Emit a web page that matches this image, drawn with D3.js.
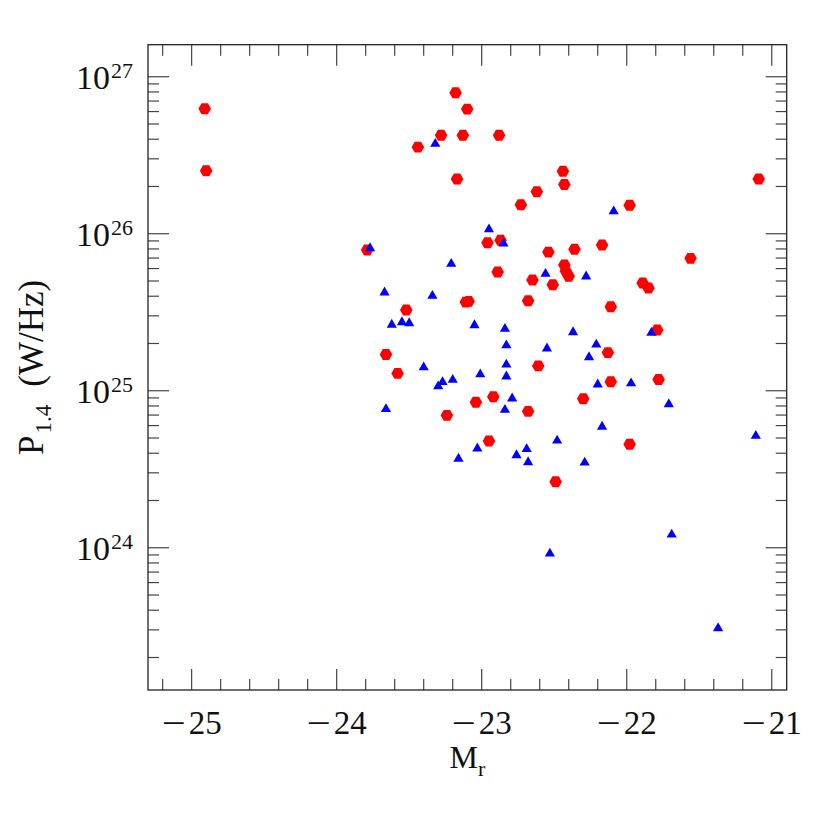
<!DOCTYPE html>
<html>
<head>
<meta charset="utf-8">
<script src="https://cdn.jsdelivr.net/npm/d3@7"></script>
<style>
  body { margin: 0; background: #fff; }
  svg text { font-family: 'Liberation Serif', 'DejaVu Serif', serif; fill: #111; }
</style>
</head>
<body>
<div id="chart"></div>
<script>
// red hexagons: absolute magnitude M_r and 1.4 GHz power (W/Hz)
var redMag = [
  -24.91, -24.90, -23.18, -23.10, -23.28, -23.13, -23.44, -22.88, -23.17, -21.09,
  -22.44, -22.43, -22.62, -22.73, -21.98, -23.79, -22.96, -22.87, -22.54, -22.36,
  -22.17, -21.56, -22.43, -22.42, -22.40, -22.89, -22.65, -22.51, -21.89, -21.85,
  -23.11, -23.09, -23.52, -22.68, -22.11, -21.79, -23.66, -23.58, -23.24, -22.13,
  -22.61, -22.11, -21.78, -22.92, -23.04, -22.30, -22.68, -22.95, -21.98, -22.49
]
var redPow = [
  6.25e26, 2.52e26, 7.91e26, 6.22e26, 4.24e26, 4.24e26, 3.56e26, 4.24e26, 2.23e26, 2.23e26,
  2.50e26, 2.06e26, 1.85e26, 1.53e26, 1.52e26, 7.88e25, 8.77e25, 9.08e25, 7.64e25, 7.96e25,
  8.47e25, 6.97e25, 6.32e25, 5.78e25, 5.36e25, 5.70e25, 5.07e25, 4.73e25, 4.85e25, 4.51e25,
  3.67e25, 3.71e25, 3.27e25, 3.74e25, 3.43e25, 2.44e25, 1.70e25, 1.29e25, 6.97e24, 1.75e25,
  1.44e25, 1.14e25, 1.18e25, 9.16e24, 8.44e24, 8.89e24, 7.39e24, 4.78e24, 4.56e24, 2.63e24
]

// blue triangles
var blueMag = [
  -23.32, -23.77, -22.09, -22.95, -22.85, -23.21, -23.67, -23.34, -23.62, -23.55,
  -23.50, -22.56, -22.28, -23.05, -22.84, -22.37, -21.83, -22.83, -22.55, -22.21,
  -22.26, -23.40, -22.83, -23.01, -22.83, -23.30, -23.27, -23.20, -22.20, -21.97,
  -23.66, -22.79, -21.71, -22.84, -22.17, -21.11, -22.48, -23.03, -22.69, -22.76,
  -23.16, -22.68, -22.29, -21.69, -22.53, -21.37
]
var bluePow = [
  3.82e26, 8.26e25, 1.42e26, 1.09e26, 8.86e25, 6.57e25, 4.32e25, 4.11e25, 2.69e25, 2.79e25,
  2.75e25, 5.68e25, 5.46e25, 2.67e25, 2.53e25, 2.41e25, 2.39e25, 1.99e25, 1.90e25, 2.01e25,
  1.67e25, 1.44e25, 1.50e25, 1.30e25, 1.26e25, 1.09e25, 1.16e25, 1.20e25, 1.12e25, 1.14e25,
  7.80e24, 9.12e24, 8.39e24, 7.72e24, 6.03e24, 5.27e24, 4.92e24, 4.38e24, 4.34e24, 3.97e24,
  3.77e24, 3.58e24, 3.56e24, 1.24e24, 9.39e23, 3.14e23
]

var xTickValues = [-25, -24, -23, -22, -21]
var yTickExps = [24, 25, 26, 27]

var W = 830, H = 830
var margin = { top: 44.7, right: 43.3, bottom: 140, left: 148 }

var svg = d3.select('#chart').append('svg')
  .attr('width', W)
  .attr('height', H)

var x = d3.scaleLinear()
  .domain([-25.301, -20.897])
  .range([margin.left, W - margin.right])

var y = d3.scaleLog()
  .domain([Math.pow(10, 23.094), Math.pow(10, 27.204)])
  .range([H - margin.bottom, margin.top])

var x0 = x.range()[0], x1 = x.range()[1]
var y0 = y.range()[0], y1 = y.range()[1]

// minor/major tick positions
var xMinor = d3.range(-25.2, -20.9, 0.2).filter(function(v) {
  return Math.abs(v - Math.round(v)) > 0.01
})
var yMinor = []
d3.range(23, 28).forEach(function(e) {
  d3.range(2, 10).forEach(function(m) {
    var v = m * Math.pow(10, e)
    if (v > y.domain()[0] && v < y.domain()[1]) yMinor.push(v)
  })
})
var yMajor = yTickExps.map(function(e) { return Math.pow(10, e) })

var ticks = svg.append('g')
  .attr('class', 'ticks')
  .attr('stroke', '#444')
  .attr('stroke-width', 1.2)

var bigT = 21, smallT = 11

function xTick(v, len) {
  ticks.append('line').attr('x1', x(v)).attr('x2', x(v)).attr('y1', y0).attr('y2', y0 - len)
  ticks.append('line').attr('x1', x(v)).attr('x2', x(v)).attr('y1', y1).attr('y2', y1 + len)
}
function yTick(v, len) {
  ticks.append('line').attr('y1', y(v)).attr('y2', y(v)).attr('x1', x0).attr('x2', x0 + len)
  ticks.append('line').attr('y1', y(v)).attr('y2', y(v)).attr('x1', x1).attr('x2', x1 - len)
}
xTickValues.forEach(function(v) { xTick(v, bigT) })
xMinor.forEach(function(v) { xTick(v, smallT) })
yMajor.forEach(function(v) { yTick(v, bigT) })
yMinor.forEach(function(v) { yTick(v, smallT) })

svg.append('rect')
  .attr('x', x0).attr('y', y1)
  .attr('width', x1 - x0).attr('height', y0 - y1)
  .attr('fill', 'none')
  .attr('stroke', '#222')
  .attr('stroke-width', 1.3)

// x tick labels, minus spaced out like the TeX glyph
var xl = svg.append('g').selectAll('text')
  .data(xTickValues)
  .enter().append('text')
  .attr('x', function(d) { return x(d) })
  .attr('y', y0 + 44)
  .attr('text-anchor', 'middle')
  .style('font-size', '33px')
xl.append('tspan').attr('textLength', 24).attr('lengthAdjust', 'spacingAndGlyphs').text('\u2212')
xl.append('tspan').attr('dx', 3).text(function(d) { return Math.abs(d) })

// y tick labels 10^n
var yLab = svg.append('g').selectAll('text')
  .data(yTickExps)
  .enter().append('text')
  .attr('x', x0 - 15)
  .attr('y', function(d) { return y(Math.pow(10, d)) + 12 })
  .attr('text-anchor', 'end')
  .style('font-size', '34px')
yLab.append('tspan').text('10')
yLab.append('tspan')
  .attr('dx', 1)
  .attr('dy', -11)
  .style('font-size', '22px')
  .text(function(d) { return d })

// axis titles
var xt = svg.append('text')
  .attr('x', (x0 + x1) / 2)
  .attr('y', y0 + 78)
  .attr('text-anchor', 'middle')
  .style('font-size', '32px')
xt.append('tspan').text('M')
xt.append('tspan').attr('dy', 8).style('font-size', '22px').text('r')

var yt = svg.append('text')
  .attr('transform', 'translate(43,' + ((y0 + y1) / 2) + ') rotate(-90)')
  .attr('text-anchor', 'middle')
  .style('font-size', '35px')
yt.append('tspan').text('P')
yt.append('tspan').attr('dy', 8).attr('dx', 2).style('font-size', '23px').text('1.4')
yt.append('tspan').attr('dy', -8).attr('dx', 18).text('(W/Hz)')

// markers
var r = 6.3
var hexPath = d3.line()(d3.range(6).map(function(i) {
  var a = i * Math.PI / 3
  return [r * Math.cos(a), r * Math.sin(a)]
})) + 'Z'
var ts = 10.2, th = ts * Math.sqrt(3) / 2
var triPath = d3.line()([[0, -th / 2], [ts / 2, th / 2], [-ts / 2, th / 2]]) + 'Z'

svg.append('g').selectAll('path')
  .data(d3.range(redMag.length))
  .enter().append('path')
  .attr('d', hexPath)
  .attr('fill', '#ff0000')
  .attr('transform', function(i) {
    return 'translate(' + x(redMag[i]) + ',' + y(redPow[i]) + ')'
  })

svg.append('g').selectAll('path')
  .data(d3.range(blueMag.length))
  .enter().append('path')
  .attr('d', triPath)
  .attr('fill', '#0000ff')
  .attr('transform', function(i) {
    return 'translate(' + x(blueMag[i]) + ',' + y(bluePow[i]) + ')'
  })
</script>
</body>
</html>
